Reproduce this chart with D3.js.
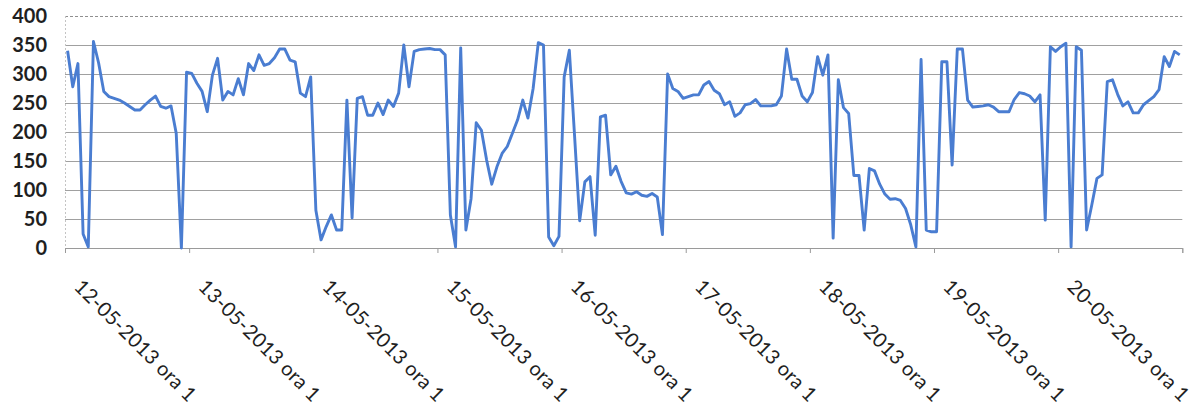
<!DOCTYPE html>
<html>
<head>
<meta charset="utf-8">
<script src="https://cdn.jsdelivr.net/npm/d3@7"></script>
<style>
  html, body { margin: 0; padding: 0; background: #ffffff; }
  svg { display: block; }
</style>
</head>
<body>
<div id="chart"></div>
<script>
// Category labels (one per day, first hour)
const dayLabels = ["12-05-2013 ora 1", "13-05-2013 ora 1", "14-05-2013 ora 1", "15-05-2013 ora 1",
  "16-05-2013 ora 1", "17-05-2013 ora 1", "18-05-2013 ora 1", "19-05-2013 ora 1", "20-05-2013 ora 1"];
const hoursPerDay = 24;
const yTicks = [0, 50, 100, 150, 200, 250, 300, 350, 400];

// Hourly values, one array per day
const day12 = [340, 278, 318, 24, 2, 356, 319, 270, 261, 258, 255, 250, 244, 238, 238, 247, 255, 262, 244, 241, 245, 198, 0, 303];
const day13 = [301, 284, 270, 235, 298, 327, 255, 270, 264, 292, 264, 318, 306, 333, 315, 318, 328, 343, 343, 324, 321, 267, 261, 295];
const day14 = [65, 14, 37, 57, 31, 31, 255, 52, 258, 261, 229, 229, 250, 230, 255, 244, 267, 350, 278, 339, 342, 343, 344, 342];
const day15 = [342, 333, 57, 2, 345, 31, 85, 216, 203, 152, 110, 140, 163, 175, 198, 221, 255, 224, 275, 354, 350, 19, 4, 20];
const day16 = [295, 341, 195, 47, 114, 123, 22, 226, 229, 126, 141, 115, 95, 93, 97, 91, 89, 94, 88, 23, 300, 275, 270, 258];
const day17 = [261, 264, 264, 281, 287, 272, 266, 247, 252, 227, 233, 247, 249, 256, 245, 245, 245, 247, 262, 343, 291, 291, 262, 252];
const day18 = [268, 330, 298, 333, 17, 290, 242, 232, 125, 125, 31, 137, 133, 110, 93, 84, 85, 82, 68, 40, 2, 325, 31, 28];
const day19 = [28, 321, 321, 143, 343, 343, 255, 243, 244, 245, 247, 243, 235, 235, 235, 256, 268, 266, 262, 252, 264, 48, 347, 339];
const day20 = [347, 353, 2, 347, 341, 31, 74, 120, 126, 287, 290, 265, 245, 252, 233, 233, 247, 254, 261, 273, 330, 313, 339, 333];

const values = [].concat(day12, day13, day14, day15, day16, day17, day18, day19, day20);
const nCats = values.length;

const W = 1195, H = 410;
const margin = { left: 65, right: 12.7, top: 16, bottom: 162 };
const plotW = W - margin.left - margin.right;
const plotH = H - margin.top - margin.bottom;

const svg = d3.select("#chart").append("svg").attr("width", W).attr("height", H);
const g = svg.append("g").attr("transform", `translate(${margin.left},${margin.top})`);

const x = d3.scaleLinear().domain([0, nCats]).range([0, plotW]);
const y = d3.scaleLinear().domain([0, 400]).range([plotH, 0]);

// Horizontal gridlines
g.append("g").selectAll("line").data(yTicks.filter(d => d > 0)).join("line")
  .attr("x1", 0).attr("x2", plotW)
  .attr("y1", d => Math.round(y(d)) + 0.5).attr("y2", d => Math.round(y(d)) + 0.5)
  .attr("stroke", d => d === 400 ? "#8f8f8f" : "#a0a0a0")
  .attr("stroke-dasharray", d => d === 400 ? "3,2" : null)
  .attr("stroke-width", 1);

// Left faint vertical axis line
g.append("line").attr("x1", 0.5).attr("x2", 0.5).attr("y1", 0).attr("y2", plotH)
  .attr("stroke", "#c4c4c4").attr("stroke-dasharray", "2,2");

// Y axis labels
const yAxis = d3.axisLeft(y).tickValues(yTicks).tickSize(0).tickPadding(18);
const yg = g.append("g").call(yAxis);
yg.select(".domain").remove();
yg.selectAll("text")
  .attr("font-family", "Lato, 'Open Sans', sans-serif")
  .attr("font-weight", "bold")
  .attr("font-size", "20px")
  .attr("fill", "#1f1f1f");

// X axis
const dayTicks = d3.range(0, nCats + 1, hoursPerDay);
const xAxis = d3.axisBottom(x).tickValues(dayTicks).tickSize(5).tickFormat("");
const xg = g.append("g").attr("transform", `translate(0,${plotH})`).call(xAxis);
xg.select(".domain").attr("stroke", "#9a9a9a");
xg.selectAll(".tick line").attr("stroke", "#9a9a9a");

// Rotated day labels
g.append("g").selectAll("text").data(dayLabels).join("text")
  .attr("transform", (d, i) => `translate(${x(i * hoursPerDay) + 8},${plotH + 40}) rotate(45)`)
  .attr("text-anchor", "start")
  .attr("font-family", "Lato, 'Open Sans', sans-serif")
  .attr("font-size", "20px")
  .attr("letter-spacing", "0.3px")
  .attr("fill", "#1f1f1f")
  .text(d => d);

// Data line
const line = d3.line()
  .x((d, i) => x(i + 0.5))
  .y(d => y(d));

g.append("path").datum(values)
  .attr("fill", "none")
  .attr("stroke", "#4a7dd1")
  .attr("stroke-width", 2.9)
  .attr("stroke-linejoin", "round")
  .attr("d", line);
</script>
</body>
</html>
